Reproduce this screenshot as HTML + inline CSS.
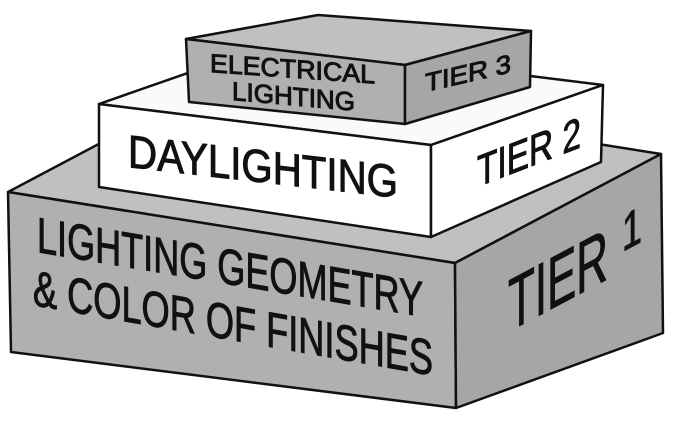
<!DOCTYPE html>
<html><head><meta charset="utf-8"><style>
html,body{margin:0;padding:0;background:#fff;}
svg{display:block;}
text{font-family:"Liberation Sans",sans-serif;fill:#111;stroke:#111;stroke-width:1;}
</style></head><body>
<svg width="680" height="427" viewBox="0 0 680 427">
<g stroke="#111" stroke-width="2.5" stroke-linejoin="round">
<polygon points="8,192 214,83 661,154 455,263" fill="#c0c0c0"/>
<polygon points="8,192 455,263 456,408 11,352" fill="#b0b0b0"/>
<polygon points="455,263 661,154 663,333 456,408" fill="#a6a6a6"/>
<polygon points="99,104 271,44 603,85 431,145" fill="#fafafa"/>
<polygon points="99,104 431,145 431,237 99,187" fill="#fff"/>
<polygon points="431,145 603,85 601,162 431,237" fill="#fff"/>
<polygon points="186,39 318,15 531,31 405,65" fill="#c0c0c0"/>
<polygon points="186,39 405,65 405,124 189,102" fill="#b0b0b0"/>
<polygon points="405,65 531,31 530,87 405,124" fill="#a6a6a6"/>
</g>
<g transform="translate(37,252) skewY(9.5)"><text font-size="50" textLength="386" lengthAdjust="spacingAndGlyphs">LIGHTING GEOMETRY</text></g>
<g transform="translate(33,305) skewY(10)"><text font-size="50" textLength="400" lengthAdjust="spacingAndGlyphs">&amp; COLOR OF FINISHES</text></g>
<g transform="translate(508,332) skewY(-28)"><text font-size="74" textLength="100" lengthAdjust="spacingAndGlyphs">TIER</text></g>
<g transform="translate(622,252) skewY(-28)"><text font-size="52" textLength="20" lengthAdjust="spacingAndGlyphs">1</text></g>
<g transform="translate(128,167) skewY(6.5)"><text font-size="46" textLength="270" lengthAdjust="spacingAndGlyphs">DAYLIGHTING</text></g>
<g transform="translate(477,187) skewY(-21)"><text font-size="44" textLength="104" lengthAdjust="spacingAndGlyphs">TIER 2</text></g>
<g transform="translate(210,72) skewY(4)"><text font-size="26" textLength="165" lengthAdjust="spacingAndGlyphs">ELECTRICAL</text></g>
<g transform="translate(232,100) skewY(5)"><text font-size="26" textLength="123" lengthAdjust="spacingAndGlyphs">LIGHTING</text></g>
<g transform="translate(425,92) skewY(-13)"><text font-size="26" textLength="86" lengthAdjust="spacingAndGlyphs">TIER 3</text></g>
</svg>
</body></html>
